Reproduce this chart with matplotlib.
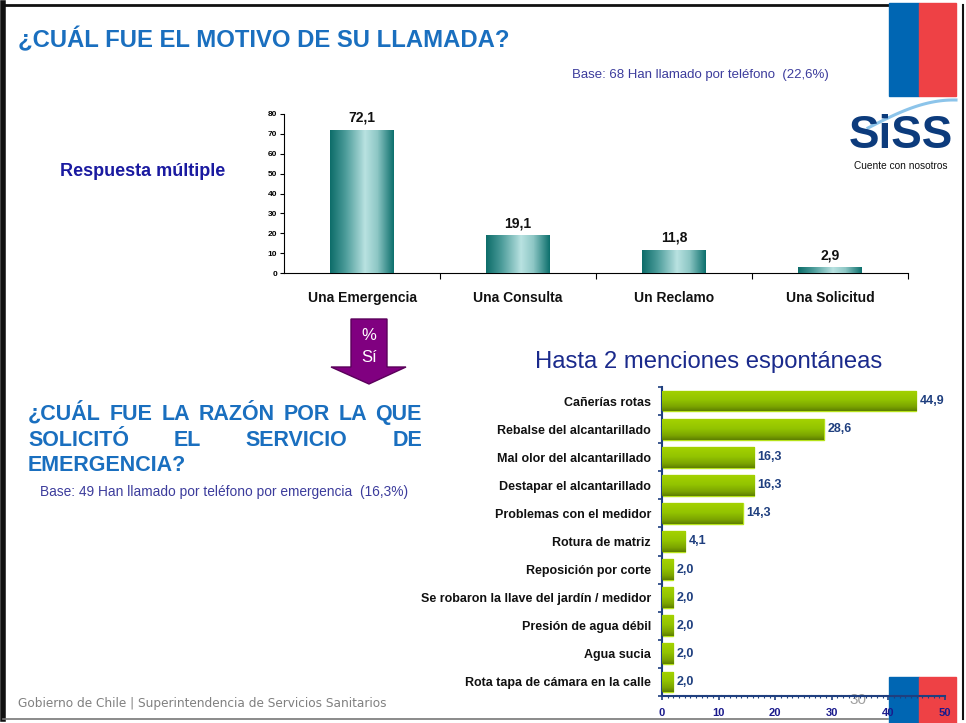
import numpy as np
import matplotlib
matplotlib.use('Agg')
import matplotlib.pyplot as plt
from matplotlib.colors import LinearSegmentedColormap
from matplotlib.patches import Rectangle, Polygon
from matplotlib.lines import Line2D

plt.rcParams['font.family'] = ['Liberation Sans', 'DejaVu Sans']

# ---- data ----
motivos = ['Una Emergencia', 'Una Consulta', 'Un Reclamo', 'Una Solicitud']
motivos_pct = [72.1, 19.1, 11.8, 2.9]

razones = ['Cañerías rotas', 'Rebalse del alcantarillado', 'Mal olor del alcantarillado',
           'Destapar el alcantarillado', 'Problemas con el medidor', 'Rotura de matriz',
           'Reposición por corte', 'Se robaron la llave del jardín / medidor',
           'Presión de agua débil', 'Agua sucia', 'Rota tapa de cámara en la calle']
razones_pct = [44.9, 28.6, 16.3, 16.3, 14.3, 4.1, 2.0, 2.0, 2.0, 2.0, 2.0]

W, H = 966, 723
fig = plt.figure(figsize=(W / 100, H / 100), dpi=100)
fig.patch.set_facecolor('white')

def fx(px):
    return px / W

def fy(py):
    return 1 - py / H

def fmt(v):
    return f'{v:.1f}'.replace('.', ',')

BLUE = '#1a6fbf'
NAVY = '#1f3f7f'

# ---- top chart ----
ax1 = fig.add_axes([fx(284), fy(273), fx(908) - fx(284), fy(114) - fy(273)])
teal = LinearSegmentedColormap.from_list('teal', [(0, '#0e6d6a'), (0.25, '#4f9e9c'),
                                                  (0.55, '#b9e2e1'), (0.75, '#8cc6c4'),
                                                  (1, '#0f716e')])
x1 = np.arange(len(motivos))
bars1 = ax1.bar(x1, motivos_pct, width=0.41, color='#3a8f8c', zorder=2)
grad = np.linspace(0, 1, 64).reshape(1, -1)
for b, v in zip(bars1, motivos_pct):
    im = ax1.imshow(grad, cmap=teal, aspect='auto', zorder=3,
                    extent=(b.get_x(), b.get_x() + b.get_width(), 0, b.get_height()))
    im.set_clip_path(b)
    ax1.text(b.get_x() + b.get_width() / 2, v + 2.5, fmt(v), ha='center', va='bottom',
             fontsize=10, fontweight='bold', color='#111111')
ax1.set_xlim(-0.5, 3.5)
ax1.set_ylim(0, 80)
ax1.set_yticks(range(0, 81, 10))
ax1.tick_params(axis='y', labelsize=6, length=3, width=0.8, pad=2)
for t in ax1.get_yticklabels():
    t.set_fontweight('bold')
ax1.set_xticks([0.5, 1.5, 2.5, 3.5])
ax1.set_xticklabels([])
ax1.tick_params(axis='x', length=4, width=0.8)
for i, m in enumerate(motivos):
    ax1.text(i, -9, m, ha='center', va='top', fontsize=10, fontweight='bold', color='#111111')
for s in ['top', 'right']:
    ax1.spines[s].set_visible(False)
ax1.spines['left'].set_linewidth(0.8)
ax1.spines['bottom'].set_linewidth(0.8)

# ---- bottom chart ----
ax2 = fig.add_axes([fx(662), fy(696), fx(945) - fx(662), fy(387) - fy(696)])
green = LinearSegmentedColormap.from_list('green', [(0, '#a4d200'), (0.45, '#93c400'),
                                                    (0.8, '#7aa300'), (1, '#5e7f00')])
y2 = np.arange(len(razones))
bars2 = ax2.barh(y2, razones_pct, height=0.74, color='#8fbf00', edgecolor='#b6e21a',
                 linewidth=1.0, zorder=2)
vgrad = np.linspace(0, 1, 64).reshape(-1, 1)
for b, v in zip(bars2, razones_pct):
    im = ax2.imshow(vgrad, cmap=green, aspect='auto', zorder=3, origin='upper',
                    extent=(b.get_x(), b.get_x() + b.get_width(),
                            b.get_y() + b.get_height(), b.get_y()))
    im.set_clip_path(b)
    ax2.text(v + 0.6, b.get_y() + b.get_height() / 2, fmt(v), ha='left', va='center',
             fontsize=9, fontweight='bold', color=NAVY, zorder=5)
ax2.set_xlim(0, 50)
ax2.set_ylim(len(razones) - 0.5, -0.5)
ax2.set_yticks(y2)
ax2.set_yticklabels(razones, fontsize=9, fontweight='bold', color='#111111')
ax2.set_yticks(np.arange(-0.5, len(razones), 1), minor=True)
ax2.tick_params(axis='y', which='major', length=0, pad=8)
ax2.tick_params(axis='y', which='minor', length=3, width=1.2, color=NAVY, direction='out')
ax2.set_xticks(range(0, 51, 10))
ax2.set_xticks(np.arange(0, 51, 1), minor=True)
ax2.tick_params(axis='x', which='major', length=3, width=1.2, color=NAVY, labelsize=8,
                labelcolor='#1a1a8c', pad=6)
ax2.tick_params(axis='x', which='minor', length=1.5, width=0.8, color=NAVY)
for t in ax2.get_xticklabels():
    t.set_fontweight('bold')
for s in ['top', 'right']:
    ax2.spines[s].set_visible(False)
for s in ['left', 'bottom']:
    ax2.spines[s].set_color(NAVY)
    ax2.spines[s].set_linewidth(1.5)
    ax2.spines[s].set_linestyle((0, (3, 0.6)))
ax2.set_zorder(5)
ax2.patch.set_alpha(0)

# ---- slide decorations ----
deco = []
deco.append(Line2D([fx(3), fx(3)], [fy(3), fy(719)], color='#111111', lw=4))
deco.append(Line2D([fx(3), fx(888)], [fy(5), fy(5)], color='#111111', lw=2))
deco.append(Line2D([fx(962.5), fx(962.5)], [fy(5), fy(719)], color='#111111', lw=1.5))
deco.append(Line2D([fx(3), fx(888)], [fy(719), fy(719)], color='#777777', lw=1.2))
for d in deco:
    fig.add_artist(d)

for yt, yb in [(3, 96), (677, 723)]:
    fig.add_artist(Rectangle((fx(889), fy(yb)), fx(919) - fx(889), fy(yt) - fy(yb),
                             transform=fig.transFigure, color='#0066b3', zorder=4))
    fig.add_artist(Rectangle((fx(919), fy(yb)), fx(956) - fx(919), fy(yt) - fy(yb),
                             transform=fig.transFigure, color='#ee4145', zorder=4))

# logo
t_arc = np.linspace(0, 1, 50)
fig.add_artist(Line2D(fx(868 + 88 * t_arc), fy(128 - 30 * np.sin(t_arc * np.pi / 2) + 2 * t_arc),
                      color='#8cc4ea', lw=2.2))
fig.text(fx(901), fy(136), 'SiSS', ha='center', va='center', fontsize=33,
         fontweight='bold', color='#0c3b7c')
fig.text(fx(901), fy(166), 'Cuente con nosotros', ha='center', va='center', fontsize=7.3,
         color='#111111')

# titles / texts
fig.text(fx(18), fy(40), '¿CUÁL FUE EL MOTIVO DE SU LLAMADA?', ha='left', va='center',
         fontsize=17.2, fontweight='bold', color=BLUE)
fig.text(fx(572), fy(75), 'Base: 68 Han llamado por teléfono  (22,6%)', ha='left',
         va='center', fontsize=9.5, color='#3c3c9c')
fig.text(fx(60), fy(171), 'Respuesta múltiple', ha='left', va='center', fontsize=13,
         fontweight='bold', color='#1a1aa0')
fig.text(fx(535), fy(362), 'Hasta 2 menciones espontáneas', ha='left', va='center',
         fontsize=17.2, color='#1a2a8c')

# arrow
arrow_px = [(351, 319), (387, 319), (387, 367), (406, 367), (369, 384), (331, 367), (351, 367)]
fig.add_artist(Polygon([(fx(a), fy(b)) for a, b in arrow_px], closed=True,
                       transform=fig.transFigure, facecolor='#800080', edgecolor='#5a005a',
                       lw=1))
fig.text(fx(369), fy(336), '%', ha='center', va='center', fontsize=12, color='white')
fig.text(fx(369), fy(358), 'Sí', ha='center', va='center', fontsize=12, color='white')

# justified question
renderer = fig.canvas.get_renderer()

def justify(words, py, x0, x1, **kw):
    texts = [fig.text(0, fy(py), w, ha='left', va='baseline', **kw) for w in words]
    widths = [t.get_window_extent(renderer).width for t in texts]
    gap = (x1 - x0 - sum(widths)) / (len(words) - 1)
    x = x0
    for t, w in zip(texts, widths):
        t.set_x(fx(x))
        x += w + gap

qkw = dict(fontsize=15.5, fontweight='bold', color=BLUE)
justify(['¿CUÁL', 'FUE', 'LA', 'RAZÓN', 'POR', 'LA', 'QUE'], 420, 28, 422, **qkw)
justify(['SOLICITÓ', 'EL', 'SERVICIO', 'DE'], 446, 28, 422, **qkw)
fig.text(fx(28), fy(471), 'EMERGENCIA?', ha='left', va='baseline', **qkw)
fig.text(fx(40), fy(492), 'Base: 49 Han llamado por teléfono por emergencia  (16,3%)',
         ha='left', va='center', fontsize=9.9, color='#3c3c9c')

# footer
fig.text(fx(18), fy(703), 'Gobierno de Chile | Superintendencia de Servicios Sanitarios',
         ha='left', va='center', fontsize=8.7, color='#808080', family='DejaVu Sans')
fig.text(fx(858), fy(700), '30', ha='center', va='center', fontsize=11, color='#a0a0a0',
         zorder=3)

fig.savefig('out.png', dpi=100)
